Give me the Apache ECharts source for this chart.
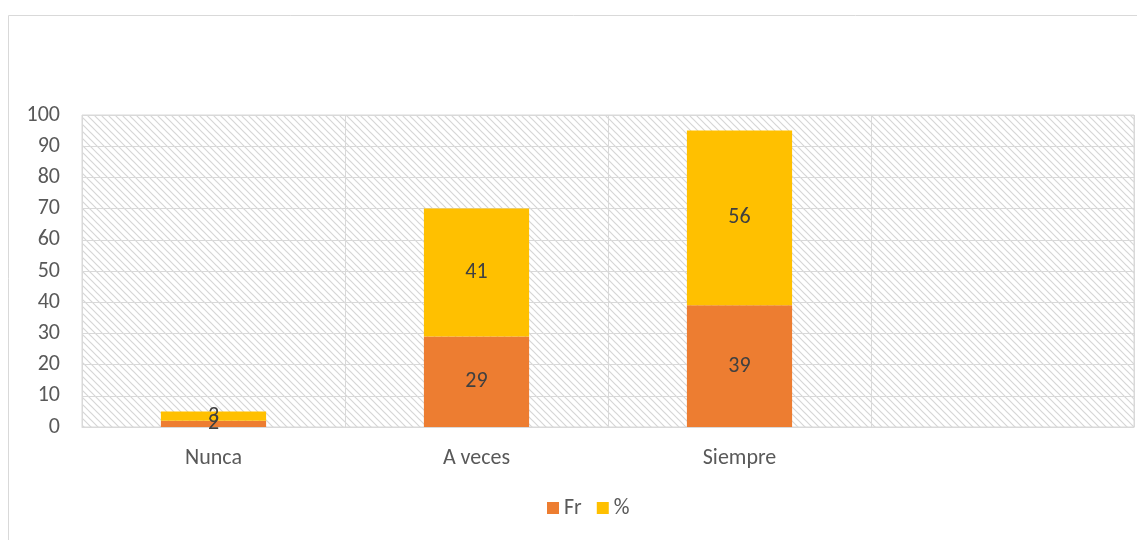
<!DOCTYPE html>
<html><head><meta charset="utf-8">
<script src="https://cdn.jsdelivr.net/npm/echarts@6/dist/echarts.min.js"></script>
<style>html,body{margin:0;padding:0;background:#fff}#c{width:1137px;height:540px}</style>
</head><body><div id="c"></div>
<script>
const categories = ['Nunca', 'A veces', 'Siempre', ''];
const frValues = [2, 29, 39, null];
const pctValues = [3, 41, 56, null];
const yTicks = [0, 10, 20, 30, 40, 50, 60, 70, 80, 90, 100];

const P = 7;
const pc = document.createElement('canvas');
pc.width = P; pc.height = P;
const g = pc.getContext('2d');
g.fillStyle = '#ffffff'; g.fillRect(0,0,P,P);
g.strokeStyle = '#d6d6d6'; g.lineWidth = 1.2;
g.beginPath();
g.moveTo(-1,-1); g.lineTo(P+1,P+1);
g.moveTo(-1,P-1); g.lineTo(1,P+1);
g.moveTo(P-1,-1); g.lineTo(P+1,1);
g.stroke();

const chart = echarts.init(document.getElementById('c'), null, {renderer:'canvas'});
const font = 'Carlito, Calibri, "Liberation Sans", sans-serif';
chart.setOption({
  animation: false,
  textStyle: {fontFamily: font},
  graphic: [{type:'rect', silent:true, shape:{x:8.5, y:15.5, width:1140, height:540}, style:{fill:'none', stroke:'#d9d9d9', lineWidth:1}}],
  grid: {left: 82, right: 3, top: 115, bottom: 113, show: true, backgroundColor: {image: pc, repeat: 'repeat'}, borderColor: '#d9d9d9', borderWidth: 1, containLabel: false},
  legend: {bottom: 16, left: 542, itemWidth: 12, itemHeight: 12, itemGap: 15, icon: 'rect',
    textStyle: {fontSize: 22, color: '#595959', fontFamily: font}, data: ['Fr', '%']},
  xAxis: {type: 'category', data: categories,
    axisLine: {show: true, lineStyle: {color: '#d9d9d9'}}, axisTick: {show: false},
    axisLabel: {fontSize: 22, color: '#595959', margin: 20},
    splitLine: {show: true, lineStyle: {color: '#d9d9d9'}}},
  yAxis: {type: 'value', min: 0, max: 100, interval: 10,
    axisLine: {show: false}, axisTick: {show: false},
    axisLabel: {fontSize: 22, color: '#595959', margin: 22, formatter: v => yTicks.includes(v) ? String(v) : ''},
    splitLine: {show: true, lineStyle: {color: '#d9d9d9'}}},
  series: [
    {name: 'Fr', type: 'bar', stack: 's', data: frValues, barWidth: '40%', itemStyle: {color: '#ED7D31'},
      label: {show: true, position: 'inside', fontSize: 22, color: '#404040', fontFamily: font}},
    {name: '%', type: 'bar', stack: 's', data: pctValues, barWidth: '40%', itemStyle: {color: '#FFC000'},
      label: {show: true, position: 'inside', fontSize: 22, color: '#404040', fontFamily: font}}
  ]
});
</script></body></html>
